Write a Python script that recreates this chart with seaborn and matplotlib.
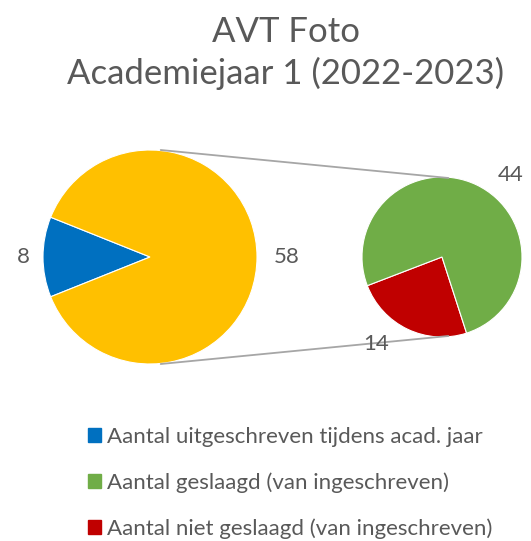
import numpy as np
import matplotlib
matplotlib.use("Agg")
import matplotlib.pyplot as plt
from matplotlib.patches import Patch
import seaborn as sns

# data
title = "AVT Foto\nAcademiejaar 1 (2022-2023)"
main_labels = ["Aantal uitgeschreven tijdens acad. jaar", "Ingeschreven"]
main_values = [8, 58]
sub_labels = ["Aantal niet geslaagd (van ingeschreven)", "Aantal geslaagd (van ingeschreven)"]
sub_values = [14, 44]

main_colors = ["#0070C0", "#FFC000"]
sub_colors = ["#C00000", "#70AD47"]
text_col = "#595959"

sns.set_theme(style="white")
plt.rcParams['font.family'] = ['Lato', 'DejaVu Sans']

W, H = 531, 541
fig = plt.figure(figsize=(W / 100, H / 100), dpi=100)
ax = fig.add_axes([0, 0, 1, 1])

# geometry (pixels, y up)
c1 = (150, 284); r1 = 107
c2 = (442, 284); r2 = 80

# left pie: blue slice centred on the left side
blue_span = 360.0 * main_values[0] / sum(main_values)
ax.pie(main_values, colors=main_colors, startangle=180 - blue_span / 2,
       center=c1, radius=r1, frame=True,
       wedgeprops=dict(edgecolor="white", linewidth=0.8))

# right pie: red slice starts at ~201 deg
ax.pie(sub_values, colors=sub_colors, startangle=201,
       center=c2, radius=r2, frame=True,
       wedgeprops=dict(edgecolor="white", linewidth=0.8))

# connector lines
xoff1 = 0.1 * r1
xoff2 = 0.08 * r2
ax.plot([c1[0] + xoff1, c2[0] + xoff2], [c1[1] + r1, c2[1] + r2 - 1], color="#A6A6A6", lw=1.3)
ax.plot([c1[0] + xoff1, c2[0] + xoff2], [c1[1] - r1, c2[1] - r2 + 1], color="#A6A6A6", lw=1.3)

# data labels
def put_label(c, r, ang, dist, val):
    a = np.deg2rad(ang)
    ax.text(c[0] + dist * r * np.cos(a), c[1] + dist * r * np.sin(a), str(val),
            ha="center", va="center", fontsize=16, color=text_col)

put_label(c1, r1, 180, 1.18, main_values[0])
put_label(c1, r1, 0, 1.28, main_values[1])
put_label(c2, r2, 50, 1.33, sub_values[1])
put_label(c2, r2, 233, 1.36, sub_values[0])

ax.text(286, H - 53, title, ha="center", va="center", fontsize=25,
        color=text_col, linespacing=1.32)

handles = [Patch(color=main_colors[0], label=main_labels[0]),
           Patch(color=sub_colors[1], label=sub_labels[1]),
           Patch(color=sub_colors[0], label=sub_labels[0])]
leg = ax.legend(handles=handles, loc="upper left", bbox_to_anchor=(88 / W, 1 - 427 / H),
                frameon=False, fontsize=16, handlelength=0.6, handleheight=0.6,
                handletextpad=0.25, labelspacing=1.14, borderaxespad=0, borderpad=0)
for t in leg.get_texts():
    t.set_color(text_col)

ax.set_xlim(0, W)
ax.set_ylim(0, H)
ax.set_aspect("equal")
ax.axis("off")

fig.savefig("out.png", dpi=100, facecolor="white")
